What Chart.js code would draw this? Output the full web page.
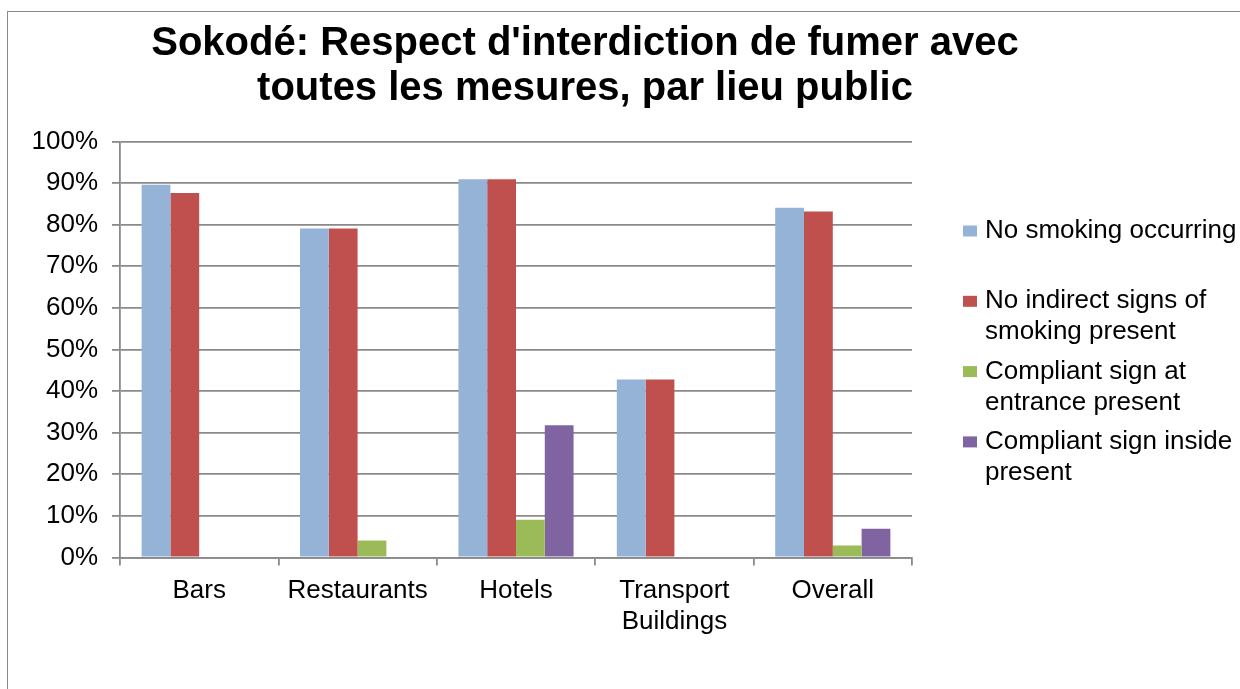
<!DOCTYPE html>
<html>
<head>
<meta charset="utf-8">
<script src="https://cdn.jsdelivr.net/npm/chart.js@4/dist/chart.umd.min.js"></script>
<style>
  html, body { margin: 0; padding: 0; background: #fff; overflow: hidden; }
  #wrap { position: relative; width: 1240px; height: 689px; }
  #frame { position: absolute; left: 7px; top: 11px; width: 1300px; height: 800px;
           border: 1.5px solid #8a8a8a; pointer-events: none; }
</style>
</head>
<body>
<div id="wrap">
  <canvas id="barChart" width="1240" height="689"></canvas>
  <div id="frame"></div>
</div>
<script>
const titleLines = ["Sokodé: Respect d'interdiction de fumer avec", "toutes les mesures, par lieu public"];
const categories = ["Bars", "Restaurants", "Hotels", ["Transport", "Buildings"], "Overall"];
const seriesLabels = [
  "No smoking occurring",
  "No indirect signs of\nsmoking present",
  "Compliant sign at\nentrance present",
  "Compliant sign inside\npresent"
];
const noSmoking = [89.6, 79.1, 90.9, 42.8, 84.1];
const noIndirectSigns = [87.6, 79.1, 90.9, 42.8, 83.2];
const signAtEntrance = [0, 4.1, 9.1, 0, 2.9];
const signInside = [0, 0, 31.8, 0, 6.9];
const yTicks = [0, 10, 20, 30, 40, 50, 60, 70, 80, 90, 100];

const colors = ["#95B3D7", "#C0504D", "#9BBB59", "#8064A2"];
const fontFamily = "'Liberation Sans', Arial, sans-serif";
const gridColor = "#8a8a8a";

// title and multi-line legend drawn by hand, like the Excel original
const excelDecor = {
    id: "excelDecor",
    afterDraw(chart) {
        const ctx = chart.ctx;
        ctx.save();
        ctx.fillStyle = "#000";
        ctx.textAlign = "center";
        ctx.textBaseline = "alphabetic";
        ctx.font = "bold 40px " + fontFamily;
        ctx.fillText(titleLines[0], 585, 55);
        ctx.fillText(titleLines[1], 585, 100);

        ctx.font = "26px " + fontFamily;
        ctx.textAlign = "left";
        ctx.textBaseline = "middle";
        chart.data.datasets.forEach(function (ds, i) {
            const y = 231 + i * 70.3;
            ctx.fillStyle = ds.backgroundColor;
            ctx.fillRect(963, y - 5.5, 14, 11);
            ctx.fillStyle = "#000";
            ds.label.split("\n").forEach(function (line, j) {
                ctx.fillText(line, 985, y + j * 31);
            });
        });
        ctx.restore();
    }
};

let chartInstance;

document.addEventListener("DOMContentLoaded", function () {
    let ctx = document.getElementById("barChart").getContext("2d");

    chartInstance = new Chart(ctx, {
        type: "bar",
        data: {
            labels: categories,
            datasets: [
                { label: seriesLabels[0], data: noSmoking, backgroundColor: colors[0] },
                { label: seriesLabels[1], data: noIndirectSigns, backgroundColor: colors[1] },
                { label: seriesLabels[2], data: signAtEntrance, backgroundColor: colors[2] },
                { label: seriesLabels[3], data: signInside, backgroundColor: colors[3] }
            ]
        },
        options: {
            responsive: false,
            animation: false,
            layout: { padding: { left: 0, top: 141.5, right: 328, bottom: 0 } },
            datasets: {
                bar: { categoryPercentage: 0.727, barPercentage: 1.0, borderWidth: 0 }
            },
            plugins: {
                legend: { display: false },
                title: { display: false },
                tooltip: { enabled: false }
            },
            scales: {
                x: {
                    afterFit: function (s) { s.height = 131.5; },
                    grid: { drawOnChartArea: false, drawTicks: true, tickLength: 8,
                            color: gridColor, lineWidth: 1.8, offset: true },
                    border: { display: true, color: gridColor, width: 1.8 },
                    ticks: { color: "#000", padding: 10,
                             font: { family: fontFamily, size: 26, lineHeight: 1.2 } }
                },
                y: {
                    min: 0,
                    max: 100,
                    afterFit: function (s) { s.width = 120; },
                    afterBuildTicks: function (s) { s.ticks = yTicks.map(v => ({ value: v })); },
                    grid: { color: gridColor, lineWidth: 1.8, drawTicks: true, tickLength: 8 },
                    border: { display: true, color: gridColor, width: 1.8 },
                    ticks: {
                        color: "#000",
                        padding: 14,
                        font: { family: fontFamily, size: 26 },
                        callback: function (v) { return v + "%"; }
                    }
                }
            }
        },
        plugins: [excelDecor]
    });
});
</script>
</body>
</html>
